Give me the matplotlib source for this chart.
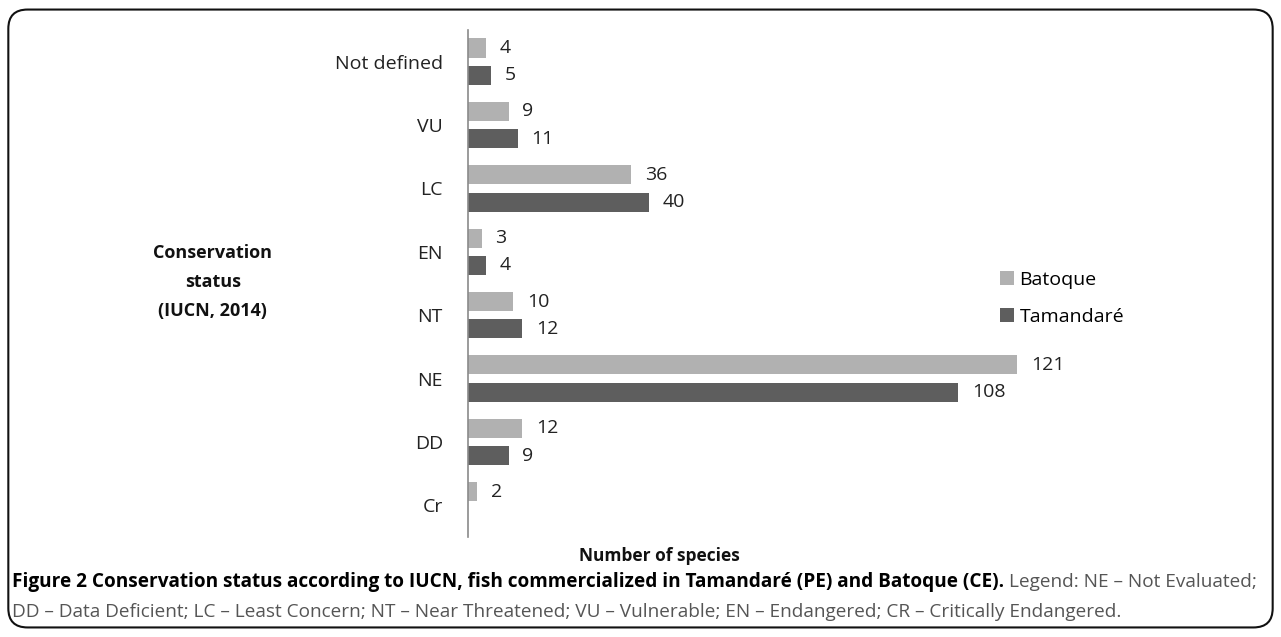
import matplotlib.pyplot as plt
from matplotlib.patches import FancyBboxPatch

# Conservation status categories, top to bottom
categories = ['Not defined', 'VU', 'LC', 'EN', 'NT', 'NE', 'DD', 'Cr']
batoque = [4, 9, 36, 3, 10, 121, 12, 2]
tamandare = [5, 11, 40, 4, 12, 108, 9, 0]

light = '#b1b1b1'
dark = '#5e5e5e'
font = 'Open Sans'

fig = plt.figure(figsize=(12.81, 6.37), dpi=100)
ax = fig.add_axes([0.3653, 0.157, 0.496, 0.796])

y = list(range(len(categories)))
h = 0.30
off = 0.215
ax.barh([i - off for i in y], batoque, height=h, color=light, label='Batoque')
ax.barh([i + off for i in y], tamandare, height=h, color=dark, label='Tamandaré')

for i in y:
    if batoque[i] > 0:
        ax.text(batoque[i] + 3, i - off, str(batoque[i]), va='center', ha='left',
                fontsize=14, family=font, color='#222222')
    if tamandare[i] > 0:
        ax.text(tamandare[i] + 3, i + off, str(tamandare[i]), va='center', ha='left',
                fontsize=14, family=font, color='#222222')

ax.set_xlim(0, 140)
ax.set_ylim(len(categories) - 0.5, -0.5)
ax.set_yticks(y)
ax.set_yticklabels(categories, family=font, fontsize=14, color='#222222')
ax.tick_params(axis='y', length=0, pad=18)
ax.set_xticks([])
for s in ['top', 'right', 'bottom']:
    ax.spines[s].set_visible(False)
ax.spines['left'].set_color('#8a8a8a')
ax.spines['left'].set_linewidth(1.2)

ax.legend(loc='upper left', bbox_to_anchor=(0.81, 0.56), frameon=False,
          prop={'family': font, 'size': 14}, handlelength=0.7,
          handleheight=0.7, handletextpad=0.3, labelspacing=1.0)

fig.text(0.166, 0.557, 'Conservation\nstatus\n(IUCN, 2014)', ha='center', va='center',
         fontsize=13, fontweight='bold', family=font, linespacing=1.8,
         color='#111111')
fig.text(0.515, 0.127, 'Number of species', ha='center', va='center',
         fontsize=12.5, fontweight='bold', family=font, color='#111111')

# caption: bold part followed by regular part, sized to fill the line
bold_txt = 'Figure 2 Conservation status according to IUCN, fish commercialized in Tamandaré (PE) and Batoque (CE).'
reg_txt = 'Legend: NE – Not Evaluated;'
line2 = 'DD – Data Deficient; LC – Least Concern; NT – Near Threatened; VU – Vulnerable; EN – Endangered; CR – Critically Endangered.'

fig.canvas.draw()
r = fig.canvas.get_renderer()
W = fig.bbox.width
size = 13
t1 = fig.text(0.0095, 0.086, bold_txt, ha='left', va='center', fontsize=size,
              fontweight='bold', family=font)
t2 = fig.text(0, 0.086, reg_txt, ha='left', va='center', fontsize=size,
              family=font, color='#555555')
w = t1.get_window_extent(renderer=r).width + 6 + t2.get_window_extent(renderer=r).width
size = size * 1238 / w
t1.set_fontsize(size)
t2.set_fontsize(size)
bb = t1.get_window_extent(renderer=r)
t2.set_x((bb.x1 + 5) / W)
fig.text(0.0095, 0.039, line2, ha='left', va='center', fontsize=size,
         family=font, color='#555555')

border = FancyBboxPatch((0.0065, 0.015), 0.987, 0.97, boxstyle='round,pad=0,rounding_size=0.015',
                        transform=fig.transFigure, fill=False, edgecolor='#111111', linewidth=1.5,
                        mutation_aspect=2.0)
fig.patches.append(border)

plt.savefig('out.png', dpi=100)
